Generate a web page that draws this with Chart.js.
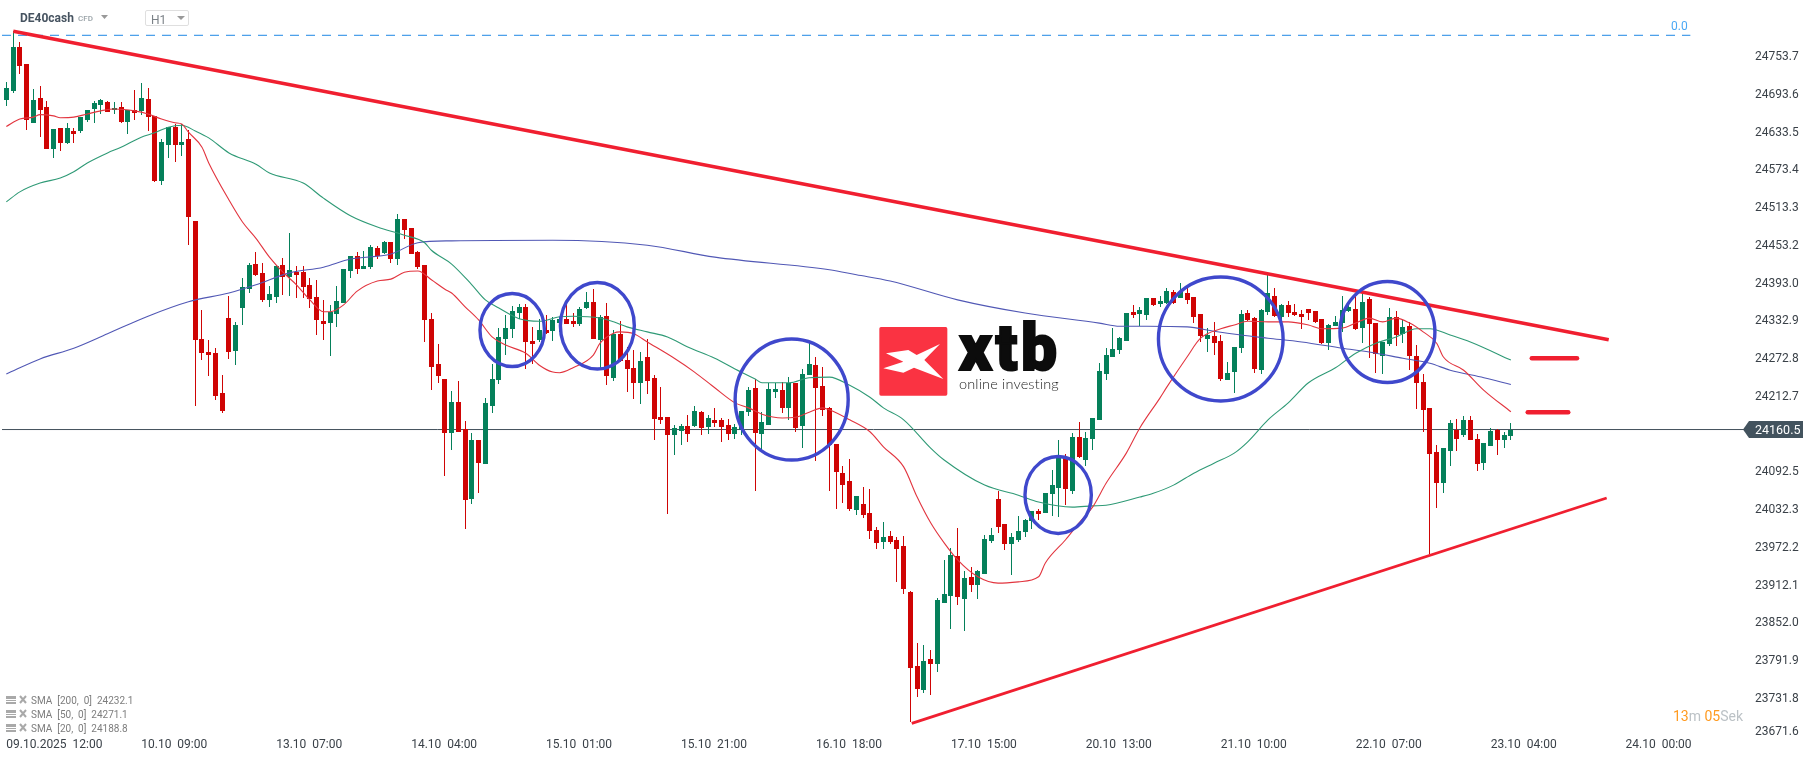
<!DOCTYPE html>
<html><head><meta charset="utf-8">
<script src="https://cdn.jsdelivr.net/npm/chart.js@4"></script>
<style>
html,body{margin:0;padding:0;background:#fff;width:1815px;height:761px;overflow:hidden}
#wrap{position:relative;width:1815px;height:761px}
canvas{position:absolute;left:0;top:0}
.t{position:absolute;white-space:pre;font-family:Roboto,sans-serif;line-height:1}
</style></head><body>
<div id="wrap">
<canvas id="c" width="1815" height="761"></canvas>
<svg style="position:absolute;left:840px;top:300px" width="260" height="120" viewBox="0 0 780 360">
<rect x="118" y="81" width="204" height="206" rx="5" fill="#fa3342"/>
<polygon fill="#fff" points="138,160 205,150 230,165 300,132 253,180 310,237 222,203 190,218 130,205 190,185"/>
</svg>
<div class="t" style="left:959px;top:317px;font-size:64px;font-weight:900;color:#0c0c0c;letter-spacing:3.5px;-webkit-text-stroke:2px #0c0c0c">xtb</div>
<div class="t" style="left:959px;top:377px;font-size:14.5px;font-weight:300;color:#222;letter-spacing:.15px;font-family:Lato,sans-serif">online investing</div>

<div class="t" style="left:20px;top:12px;font-size:12px;font-weight:700;color:#465360">DE40cash</div>
<div class="t" style="left:78px;top:15px;font-size:8px;font-weight:500;color:#9aa3a8">CFD</div>
<svg style="position:absolute;left:100px;top:14px" width="9" height="6"><polygon points="1,1 8,1 4.5,5" fill="#999"/></svg>
<div style="position:absolute;left:145px;top:10px;width:42px;height:14px;border:1px solid #dfdfdf;border-radius:2px"></div>
<div class="t" style="left:151px;top:14px;font-size:12px;color:#7b8187">H1</div>
<svg style="position:absolute;left:176px;top:15px" width="10" height="6"><polygon points="1,1 9,1 5,5" fill="#999"/></svg>
<div class="t" style="left:1671px;top:20px;font-size:12px;color:#4aa8f5">0.0</div>

<svg style="position:absolute;left:5px;top:694px" width="24" height="42">
<g fill="#a9a9a9"><rect x="1" y="2" width="10" height="3"/><rect x="1" y="6" width="10" height="1"/><rect x="1" y="8" width="10" height="2"/>
<rect x="1" y="16" width="10" height="3"/><rect x="1" y="20" width="10" height="1"/><rect x="1" y="22" width="10" height="2"/>
<rect x="1" y="30" width="10" height="3"/><rect x="1" y="34" width="10" height="1"/><rect x="1" y="36" width="10" height="2"/></g>
<g stroke="#a9a9a9" stroke-width="2"><path d="M15 2l6 7M21 2l-6 7M15 16l6 7M21 16l-6 7M15 30l6 7M21 30l-6 7"/></g>
</svg>
<div class="t" style="left:31px;top:696px;font-size:10px;color:#7d7d7d">SMA  [200,  0]  24232.1</div>
<div class="t" style="left:31px;top:710px;font-size:10px;color:#7d7d7d">SMA  [50,  0]  24271.1</div>
<div class="t" style="left:31px;top:724px;font-size:10px;color:#7d7d7d">SMA  [20,  0]  24188.8</div>
<div class="t" style="left:1673px;top:709px;font-size:14px;color:#ff9a1f">13<span style="color:#bcc2c6">m</span> 05<span style="color:#bcc2c6">Sek</span></div>
</div>
<script>
const opens=[24685,24700,24770,24743,24649,24688,24674,24607,24641,24617,
24636,24636,24653,24671,24677,24682,24669,24674,24650,24669,
24668,24687,24660,24556,24614,24642,24614,24623,24493,24305,
24284,24282,24219,24338,24286,24354,24384,24424,24410,24367,
24372,24422,24403,24411,24411,24391,24372,24333,24330,24344,
24362,24413,24437,24416,24419,24450,24442,24459,24432,24496,
24481,24443,24422,24337,24265,24241,24155,24204,24161,24050,
24144,24106,24198,24239,24305,24321,24346,24356,24302,24303,
24319,24317,24330,24337,24333,24329,24354,24364,24303,24341,
24243,24313,24271,24259,24235,24276,24243,24181,24181,24152,
24158,24166,24166,24188,24165,24176,24176,24168,24153,24160,
24188,24227,24153,24168,24220,24224,24195,24235,24166,24247,
24263,24230,24195,24138,24091,24079,24032,24042,24028,24000,
23981,23991,23985,23975,23902,23784,23746,23795,23787,23884,
23895,23959,23891,23926,23913,23930,23983,24050,24010,23978,
23985,23997,24015,24031,24028,24058,24067,24117,24063,24149,
24112,24145,24176,24249,24276,24287,24302,24348,24344,24343,
24370,24360,24362,24380,24370,24378,24372,24344,24305,24309,
24302,24239,24252,24290,24346,24338,24255,24348,24373,24340,
24359,24348,24344,24352,24349,24337,24298,24325,24330,24349,
24352,24322,24368,24330,24278,24297,24340,24313,24325,24278,
24236,24195,24125,24075,24126,24160,24152,24176,24145,24107,
24134,24160,24144,24150];
const highs=[24714,24795,24778,24743,24703,24708,24684,24639,24641,24649,
24641,24658,24669,24684,24687,24684,24682,24682,24669,24701,
24712,24704,24660,24623,24642,24647,24647,24638,24493,24351,
24303,24290,24247,24373,24332,24402,24426,24443,24426,24389,
24422,24434,24473,24421,24421,24402,24399,24367,24359,24389,
24416,24437,24443,24445,24454,24453,24461,24459,24504,24496,
24481,24445,24422,24346,24297,24241,24222,24238,24174,24155,
24144,24211,24265,24322,24343,24357,24360,24360,24324,24337,
24343,24340,24340,24362,24346,24356,24380,24384,24343,24362,
24319,24333,24292,24287,24284,24305,24247,24228,24181,24168,
24169,24184,24198,24190,24184,24195,24179,24177,24169,24190,
24228,24241,24188,24235,24235,24236,24244,24235,24257,24302,
24276,24260,24196,24138,24102,24114,24055,24069,24066,24005,
24013,23999,23989,23991,23903,23821,23817,23809,23892,23953,
23972,24004,23935,23942,23937,23993,24004,24063,24010,23996,
24023,24018,24031,24034,24059,24096,24144,24122,24155,24173,
24157,24179,24266,24290,24322,24308,24346,24359,24356,24370,
24370,24373,24386,24383,24394,24386,24372,24344,24322,24332,
24311,24268,24292,24351,24351,24340,24352,24407,24386,24360,
24365,24360,24351,24352,24349,24337,24329,24341,24373,24359,
24378,24380,24372,24330,24300,24354,24349,24335,24332,24295,
24249,24195,24136,24131,24176,24177,24182,24182,24153,24139,
24163,24161,24157,24171];
const lows=[24676,24696,24727,24638,24649,24626,24607,24593,24604,24615,
24617,24633,24650,24649,24663,24666,24663,24649,24631,24653,
24661,24636,24555,24550,24593,24587,24596,24454,24198,24271,
24246,24208,24187,24273,24263,24327,24378,24405,24364,24356,
24362,24375,24373,24370,24370,24354,24311,24303,24278,24324,
24362,24402,24408,24416,24416,24432,24440,24426,24422,24464,
24440,24416,24300,24224,24235,24087,24128,24157,24002,24042,
24059,24106,24187,24233,24279,24306,24337,24257,24265,24300,
24313,24302,24316,24329,24324,24325,24352,24305,24255,24231,
24238,24268,24220,24209,24201,24217,24144,24169,24026,24120,
24136,24141,24165,24152,24153,24165,24141,24144,24145,24152,
24182,24063,24125,24168,24211,24187,24176,24157,24131,24247,
24110,24182,24063,24034,24044,24031,24024,24020,23986,23970,
23970,23978,23918,23899,23695,23735,23741,23738,23774,23884,
23843,23881,23840,23902,23891,23930,23980,23996,23969,23929,
23981,23989,24002,24016,24028,24023,24021,24040,24058,24115,
24102,24128,24176,24239,24276,24281,24302,24338,24325,24335,
24357,24356,24360,24360,24370,24360,24330,24300,24284,24279,
24238,24239,24219,24282,24333,24251,24249,24343,24340,24319,
24340,24341,24321,24335,24330,24297,24287,24325,24316,24348,
24319,24298,24274,24251,24249,24294,24294,24298,24255,24193,
24157,23962,24036,24059,24102,24126,24149,24144,24095,24096,
24134,24120,24131,24144];
const closes=[24704,24770,24739,24653,24685,24669,24607,24639,24617,24641,
24631,24658,24669,24680,24685,24666,24672,24650,24669,24665,
24688,24658,24556,24618,24642,24614,24618,24499,24303,24282,
24279,24214,24190,24284,24327,24387,24422,24407,24367,24376,
24421,24403,24414,24407,24387,24368,24335,24329,24348,24365,
24416,24437,24416,24421,24451,24437,24459,24432,24496,24478,
24440,24419,24335,24260,24246,24155,24204,24157,24048,24144,
24107,24203,24241,24308,24322,24349,24356,24300,24297,24319,
24314,24335,24337,24329,24329,24352,24364,24305,24340,24246,
24313,24270,24257,24235,24270,24238,24177,24176,24152,24163,
24166,24153,24190,24163,24179,24171,24165,24153,24165,24190,
24224,24155,24173,24225,24225,24195,24235,24163,24249,24265,
24227,24192,24136,24093,24072,24034,24055,24024,23999,23980,
23989,23981,23970,23907,23781,23747,23792,23787,23889,23899,
23961,23894,23924,23913,23935,23986,23993,24005,23978,23989,
23999,24016,24031,24026,24059,24072,24118,24066,24149,24117,
24147,24179,24254,24279,24289,24306,24346,24343,24351,24370,
24359,24365,24381,24362,24380,24367,24340,24309,24311,24298,
24241,24251,24292,24344,24335,24257,24351,24378,24341,24359,
24346,24343,24340,24346,24332,24298,24327,24332,24351,24356,
24321,24364,24329,24281,24300,24340,24311,24324,24278,24235,
24192,24122,24075,24131,24171,24146,24176,24144,24106,24139,
24158,24144,24152,24160.5];

const sma20Idx=[0,2,4,5,7,8,10,12,14,16,19,21,23,25,26,27,29,30,33,35,37,39,41,43,45,47,48,50,52,55,57,59,61,63,65,66,68,70,72,74,77,79,81,82,84,87,88,90,91,93,95,99,102,105,108,110,112,115,117,119,121,122,125,128,130,133,135,137,139,141,144,147,150,153,154,157,159,161,163,166,168,171,172,175,177,180,182,184,187,190,193,195,198,200,202,204,206,208,210,212,213,216,219,223];
const sma20=[24643,24655,24658,24662,24660,24657,24658,24663,24668,24671,24668,24663,24655,24649,24647,24634,24610,24585,24526,24491,24465,24435,24411,24391,24367,24348,24348,24359,24381,24397,24400,24411,24413,24399,24384,24378,24356,24335,24308,24295,24282,24263,24252,24251,24259,24279,24298,24314,24316,24313,24300,24274,24252,24227,24203,24195,24185,24179,24180,24188,24195,24192,24176,24157,24133,24101,24053,24012,23980,23953,23926,23916,23918,23926,23948,23985,24012,24037,24075,24123,24163,24211,24228,24276,24306,24321,24327,24333,24332,24332,24327,24321,24322,24330,24338,24332,24338,24330,24316,24298,24276,24255,24223,24188.8];
const sma50Idx=[0,2,5,8,10,12,15,17,20,22,24,26,28,30,33,37,39,44,47,51,55,59,62,63,66,69,71,73,76,79,82,84,88,90,92,95,98,101,105,108,111,112,116,119,122,125,128,130,133,137,139,145,150,153,158,161,163,168,170,173,176,179,182,184,187,190,193,197,200,203,206,209,211,214,217,223];
const sma50=[24523,24539,24553,24561,24571,24585,24601,24610,24626,24633,24642,24645,24636,24625,24601,24583,24569,24553,24529,24501,24483,24470,24458,24446,24424,24391,24367,24354,24337,24333,24340,24341,24338,24332,24324,24316,24308,24292,24274,24257,24241,24235,24235,24243,24244,24231,24212,24195,24176,24131,24112,24072,24056,24045,24037,24039,24040,24053,24059,24072,24091,24107,24123,24141,24176,24203,24235,24259,24282,24298,24308,24321,24321,24311,24300,24271.1];
const sma200Idx=[0,5,10,15,21,27,33,37,42,47,51,57,61,66,81,95,105,122,126,131,141,151,162,165,169,175,179,183,187,192,198,202,207,211,214,219,223];
const sma200=[24249,24273,24290,24313,24341,24364,24378,24391,24410,24419,24432,24440,24458,24461,24462,24454,24435,24415,24407,24397,24367,24346,24330,24325,24325,24324,24317,24311,24306,24300,24290,24284,24274,24266,24255,24243,24232.1];

const trendUpperIdx=[1.03,237.5], trendUpperPrice=[24794.7,24303.6];
const trendLowerIdx=[134.2,237.2], trendLowerPrice=[23692.7,24051.5];
const markUpperIdx=[226.1,232.8], markUpperPrice=[24274,24274];
const markLowerIdx=[225.5,231.5], markLowerPrice=[24187.9,24187.9];
const fibIdx=[-0.64,249.6], fibPrice=[24788.3,24788.3];
const priceNowIdx=[-0.64,257.7], priceNow=24160.5;

const circleIdx=[74.98,87.6,116.4,155.9,180,204.7];
const circlePrice=[24319,24325.8,24208.3,24056.3,24304.7,24315.8];
const circleIdxRadius=[5,5.7,8.6,5.14,9.46,7.26];
const circlePriceRadius=[60.5,71.2,98.7,63.7,101.1,82.8];

const timeTickIdx=[0,20,40,60,80,100,120,140,160,180,200,220,240];
const timeTickLabels=['09.10.2025  12:00','10.10  09:00','13.10  07:00','14.10  04:00','15.10  01:00','15.10  21:00','16.10  18:00','17.10  15:00','20.10  13:00','21.10  10:00','22.10  07:00','23.10  04:00','24.10  00:00'];
const priceTickPos=[24753.7,24693.6,24633.5,24573.4,24513.3,24453.2,24393.0,24332.9,24272.8,24212.7,24152.6,24092.5,24032.3,23972.2,23912.1,23852.0,23791.9,23731.8,23678.5];
const priceTickLabels=['24753.7','24693.6','24633.5','24573.4','24513.3','24453.2','24393.0','24332.9','24272.8','24212.7','24152.6','24092.5','24032.3','23972.2','23912.1','23852.0','23791.9','23731.8','23671.6'];

const UP='#05805a', DOWN='#cf0404';
const zip=(xs,ys)=>xs.map((x,i)=>({x,y:ys[i]}));
const colors=closes.map((c,i)=>c>=opens[i]?UP:DOWN);
const lineDs=(data,color,width,order,extra)=>Object.assign({type:'line',data,borderColor:color,borderWidth:width,pointRadius:0,tension:0,fill:false,order},extra||{});
const smooth={cubicInterpolationMode:'monotone'};

const snapBars={id:'snapBars',beforeDatasetsDraw(chart){
  chart.getSortedVisibleDatasetMetas().forEach(m=>{
    if(m.type!=='bar')return;
    m.data.forEach(el=>{el.x=Math.floor(el.x)+.5;el.y=Math.round(el.y);el.base=Math.round(el.base);
      if(el.y===el.base)el.base=el.y+1;});
  });
}};
const circles={id:'circles',afterDatasetsDraw(chart){
  const {x,y}=chart.scales,ctx=chart.ctx;
  ctx.save();ctx.strokeStyle='#3f48cc';ctx.lineWidth=3.4;
  circleIdx.forEach((c,i)=>{
    const cx=x.getPixelForValue(c),cy=y.getPixelForValue(circlePrice[i]);
    const rx=Math.abs(x.getPixelForValue(c+circleIdxRadius[i])-cx)-1.5;
    const ry=Math.abs(y.getPixelForValue(circlePrice[i]+circlePriceRadius[i])-cy)-1.5;
    ctx.beginPath();ctx.ellipse(cx,cy,rx,ry,0,0,Math.PI*2);ctx.stroke();
  });
  ctx.restore();
}};
const priceTag={id:'priceTag',afterDraw(chart){
  const ctx=chart.ctx,yp=chart.scales.y.getPixelForValue(priceNow),r=chart.chartArea.right;
  ctx.save();ctx.fillStyle='#43535e';ctx.beginPath();
  ctx.moveTo(r-2,yp);ctx.lineTo(r+4,yp-8.5);ctx.lineTo(r+58,yp-8.5);ctx.lineTo(r+58,yp+8.5);ctx.lineTo(r+4,yp+8.5);ctx.closePath();ctx.fill();
  ctx.fillStyle='#fff';ctx.font='12.5px Roboto';ctx.textAlign='left';ctx.textBaseline='middle';
  ctx.fillText(priceNow.toFixed(1),r+10,yp+1);ctx.restore();
}};

new Chart(document.getElementById('c'),{
  data:{datasets:[
    lineDs(zip(priceNowIdx,[priceNow,priceNow]),'#43505b',1,20),
    {type:'bar',data:opens.map((o,i)=>({x:i,y:[lows[i],highs[i]]})),backgroundColor:colors,borderWidth:0,barThickness:1,grouped:false,inflateAmount:0,order:11},
    {type:'bar',data:opens.map((o,i)=>({x:i,y:[o,closes[i]]})),backgroundColor:colors,borderWidth:0,barThickness:5,grouped:false,inflateAmount:0,order:10},
    lineDs(zip(sma200Idx,sma200),'#5158b5',1.1,6,smooth),
    lineDs(zip(sma50Idx,sma50),'#2f9a76',1.1,5,smooth),
    lineDs(zip(sma20Idx,sma20),'#e2353f',1.1,4,smooth),
    lineDs(zip(fibIdx,fibPrice),'#1e88e5',1,3,{borderDash:[9,7]}),
    lineDs(zip(trendUpperIdx,trendUpperPrice),'#f01f30',3.5,2),
    lineDs(zip(trendLowerIdx,trendLowerPrice),'#f01f30',2.8,2),
    lineDs(zip(markUpperIdx,markUpperPrice),'#f01f30',4.5,2,{borderCapStyle:'round'}),
    lineDs(zip(markLowerIdx,markLowerPrice),'#f01f30',4.5,2,{borderCapStyle:'round'})
  ]},
  options:{
    responsive:false,animation:false,devicePixelRatio:1,
    layout:{padding:0},
    plugins:{legend:{display:false},tooltip:{enabled:false},title:{display:false}},
    events:[],
    scales:{
      x:{type:'linear',min:-0.938,max:257.7,offset:false,
        grid:{display:false,drawTicks:false},border:{display:false},
        afterBuildTicks:a=>{a.ticks=timeTickIdx.map(value=>({value}));},
        afterFit:a=>{a.height=26;a.paddingLeft=a.paddingRight=a.paddingTop=a.paddingBottom=0;},
        ticks:{autoSkip:false,maxRotation:0,minRotation:0,align:'start',padding:3,color:'#3a4148',font:{family:'Roboto',size:12},
          callback:(v,i)=>timeTickLabels[i]}},
      y:{type:'linear',position:'right',min:23674.1,max:24844.5,
        grid:{display:false,drawTicks:false},border:{display:false},
        afterBuildTicks:a=>{a.ticks=priceTickPos.map(value=>({value}));},
        afterFit:a=>{a.width=70;a.paddingLeft=a.paddingRight=a.paddingTop=a.paddingBottom=0;},
        ticks:{autoSkip:false,padding:10,color:'#3a4148',font:{family:'Roboto',size:12},
          callback:(v,i)=>priceTickLabels[i]}}
    }
  },
  plugins:[snapBars,circles,priceTag]
});
</script>
</body></html>
